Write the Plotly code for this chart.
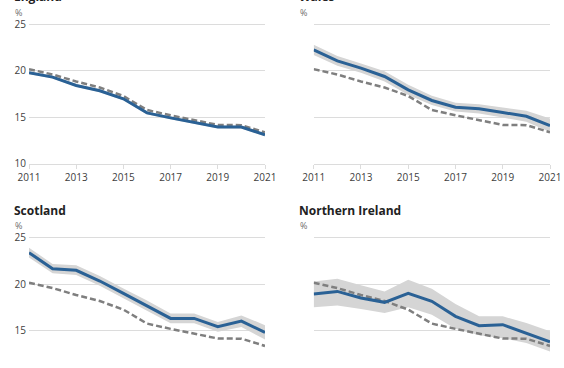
import plotly.graph_objects as go

years = list(range(2011, 2022))
xtick_vals = [2011, 2013, 2015, 2017, 2019, 2021]
ytick_vals = [10, 15, 20, 25]

reference = [20.18, 19.6, 18.85, 18.2, 17.28, 15.77, 15.2, 14.7, 14.16, 14.14, 13.36]

england = [19.8, 19.32, 18.42, 17.85, 16.98, 15.46, 14.92, 14.42, 13.95, 13.93, 13.1]
england_hi = [19.95, 19.47, 18.57, 18.0, 17.13, 15.61, 15.07, 14.57, 14.1, 14.08, 13.27]
england_lo = [19.65, 19.17, 18.27, 17.7, 16.83, 15.31, 14.77, 14.27, 13.8, 13.78, 12.93]

wales = [22.27, 21.08, 20.29, 19.39, 17.95, 16.8, 16.08, 15.9, 15.5, 15.1, 14.1]
wales_hi = [22.8, 21.6, 20.8, 19.95, 18.5, 17.3, 16.55, 16.4, 16.05, 15.7, 14.85]
wales_lo = [21.7, 20.55, 19.8, 18.85, 17.4, 16.3, 15.6, 15.4, 14.95, 14.5, 13.4]

scotland = [23.42, 21.69, 21.51, 20.36, 19.03, 17.7, 16.33, 16.33, 15.43, 16.04, 14.82]
scotland_hi = [23.95, 22.2, 22.05, 20.9, 19.55, 18.25, 16.85, 16.85, 15.95, 16.65, 15.6]
scotland_lo = [22.9, 21.2, 21.0, 19.85, 18.5, 17.15, 15.8, 15.8, 14.9, 15.4, 14.05]

ni = [18.96, 19.24, 18.53, 18.06, 19.03, 18.17, 16.55, 15.54, 15.65, 14.75, 13.81]
ni_hi = [20.32, 20.6, 19.9, 19.24, 20.5, 19.53, 17.88, 16.55, 16.55, 15.83, 14.93]
ni_lo = [17.52, 17.73, 17.34, 16.9, 17.52, 16.73, 15.22, 14.5, 14.2, 13.67, 12.77]

panels = [
    ("England", england, england_hi, england_lo),
    ("Wales", wales, wales_hi, wales_lo),
    ("Scotland", scotland, scotland_hi, scotland_lo),
    ("Northern Ireland", ni, ni_hi, ni_lo),
]

W, H = 564, 368
BLUE = "#2a6195"
DASH = "#7f7f7f"
BAND = "#d5d5d5"
GRID = "#dcdcdc"
FONT = "Open Sans"

fig = go.Figure()

# pixel geometry
xdom = [(29, 265), (313.7, 550)]
ydom_top = (21.7, 163.5)   # top px, bottom px
ydom_bot = (235.2, 368)

def px_to_paper_x(a, b):
    return [a / W, b / W]

def px_to_paper_y(top, bot):
    return [1 - bot / H, 1 - top / H]

for i, (name, vals, hi, lo) in enumerate(panels):
    n = i + 1
    xa = "x" if n == 1 else f"x{n}"
    ya = "y" if n == 1 else f"y{n}"
    fig.add_trace(go.Scatter(x=years, y=hi, mode="lines", line=dict(width=0, color=BAND),
                             hoverinfo="skip", showlegend=False, xaxis=xa, yaxis=ya))
    fig.add_trace(go.Scatter(x=years, y=lo, mode="lines", line=dict(width=0, color=BAND),
                             fill="tonexty", fillcolor=BAND, hoverinfo="skip",
                             showlegend=False, xaxis=xa, yaxis=ya))
    fig.add_trace(go.Scatter(x=years, y=reference, mode="lines",
                             line=dict(width=2.5, color=DASH, dash="6px,3px"),
                             showlegend=False, xaxis=xa, yaxis=ya))
    fig.add_trace(go.Scatter(x=years, y=vals, mode="lines",
                             line=dict(width=3, color=BLUE),
                             showlegend=False, xaxis=xa, yaxis=ya))

    col = i % 2
    row = i // 2
    xd = px_to_paper_x(*xdom[col])
    if row == 0:
        yd = px_to_paper_y(*ydom_top)
        yr = [10, 25.3]
    else:
        yd = px_to_paper_y(*ydom_bot)
        yr = [10.98, 25.3]
    xkey = "xaxis" if n == 1 else f"xaxis{n}"
    ykey = "yaxis" if n == 1 else f"yaxis{n}"
    fig.layout[xkey] = dict(
        domain=xd, range=[2011, 2021], anchor=ya, tickvals=xtick_vals,
        showgrid=False, zeroline=False, automargin=False,
        showline=(row == 0), linecolor=GRID, linewidth=1,
        ticks="outside" if row == 0 else "", ticklen=4, tickcolor=GRID,
        showticklabels=(row == 0),
        tickfont=dict(family=FONT, size=10, color="#404040"),
    )
    fig.layout[ykey] = dict(
        domain=yd, range=yr, anchor=xa, tickvals=ytick_vals,
        showgrid=True, gridcolor=GRID, gridwidth=1, zeroline=False, automargin=False,
        showline=False, ticks="", showticklabels=(col == 0),
        ticklabelstandoff=2,
        tickfont=dict(family=FONT, size=10, color="#404040"),
    )

    # titles and unit labels
    tx = 12 if col == 0 else 297
    plot_top25 = 24.5 if row == 0 else 238
    fig.add_annotation(x=tx / W, y=1 - (plot_top25 - 28) / H, xref="paper", yref="paper",
                       text=f"<b>{name}</b>", showarrow=False, xanchor="left", yanchor="middle",
                       font=dict(family=FONT, size=12, color="#222222"))
    fig.add_annotation(x=(tx + 0.5) / W, y=1 - (plot_top25 - 12.5) / H, xref="paper", yref="paper",
                       text="%", showarrow=False, xanchor="left", yanchor="middle",
                       font=dict(family=FONT, size=9, color="#6f6f6f"))

fig.update_layout(
    width=W, height=H,
    margin=dict(l=0, r=0, t=0, b=0, autoexpand=False),
    paper_bgcolor="white", plot_bgcolor="white",
    showlegend=False,
)

fig.write_html(
    "out.html",
    config={"displayModeBar": False},
    post_script="document.body.style.margin='0';document.body.style.overflow='hidden';",
)
